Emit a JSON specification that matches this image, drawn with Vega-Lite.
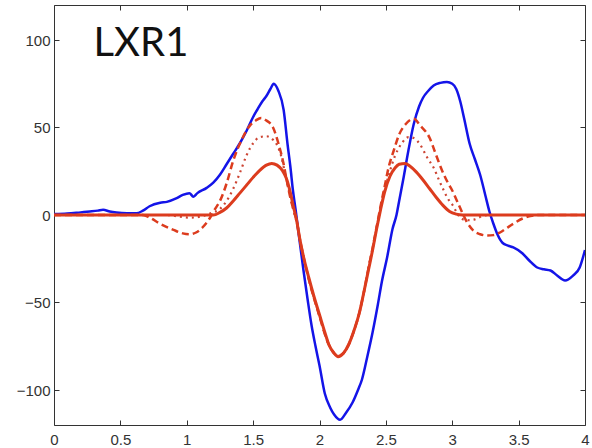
{
  "$schema": "https://vega.github.io/schema/vega-lite/v6.json",
  "width": 531,
  "height": 420,
  "autosize": {"type": "none"},
  "padding": {"left": 54, "top": 5, "right": 7, "bottom": 23},
  "background": "white",
  "config": {
    "view": {"stroke": "#333333", "strokeWidth": 1},
    "axis": {
      "grid": false,
      "domain": false,
      "tickColor": "#333333",
      "tickSize": -5,
      "tickWidth": 1,
      "labelFont": "Liberation Sans",
      "labelFontSize": 15,
      "labelColor": "#333333",
      "title": null
    }
  },
  "datasets": {
    "blue": [
      {"x": 0, "y": 0.5}, {"x": 0.1, "y": 0.8}, {"x": 0.2, "y": 1.5}, {"x": 0.27, "y": 2}, {"x": 0.33, "y": 2.5},
      {"x": 0.37, "y": 3}, {"x": 0.42, "y": 2}, {"x": 0.47, "y": 1.4}, {"x": 0.55, "y": 1}, {"x": 0.62, "y": 1},
      {"x": 0.67, "y": 2.5}, {"x": 0.72, "y": 5}, {"x": 0.8, "y": 7}, {"x": 0.85, "y": 7.5}, {"x": 0.92, "y": 9.5},
      {"x": 0.97, "y": 11.5}, {"x": 1.02, "y": 12.5}, {"x": 1.05, "y": 10.5}, {"x": 1.08, "y": 12.5}, {"x": 1.15, "y": 15.5},
      {"x": 1.2, "y": 18.5}, {"x": 1.25, "y": 23}, {"x": 1.3, "y": 29}, {"x": 1.35, "y": 35}, {"x": 1.4, "y": 41},
      {"x": 1.45, "y": 48}, {"x": 1.5, "y": 56}, {"x": 1.53, "y": 60}, {"x": 1.57, "y": 65}, {"x": 1.6, "y": 68},
      {"x": 1.63, "y": 72}, {"x": 1.655, "y": 75}, {"x": 1.69, "y": 71}, {"x": 1.73, "y": 60}, {"x": 1.76, "y": 40},
      {"x": 1.78, "y": 28}, {"x": 1.8, "y": 14}, {"x": 1.82, "y": 3}, {"x": 1.84, "y": -9}, {"x": 1.88, "y": -32},
      {"x": 1.91, "y": -48}, {"x": 1.94, "y": -63}, {"x": 1.97, "y": -75}, {"x": 2.0, "y": -86}, {"x": 2.04, "y": -102},
      {"x": 2.08, "y": -110}, {"x": 2.11, "y": -114}, {"x": 2.155, "y": -117}, {"x": 2.2, "y": -113}, {"x": 2.25, "y": -107},
      {"x": 2.29, "y": -100}, {"x": 2.32, "y": -94}, {"x": 2.36, "y": -81}, {"x": 2.4, "y": -67}, {"x": 2.44, "y": -51},
      {"x": 2.47, "y": -38}, {"x": 2.51, "y": -24}, {"x": 2.55, "y": -8}, {"x": 2.58, "y": 0}, {"x": 2.6, "y": 8},
      {"x": 2.63, "y": 20}, {"x": 2.67, "y": 37}, {"x": 2.71, "y": 52}, {"x": 2.75, "y": 62}, {"x": 2.78, "y": 67},
      {"x": 2.82, "y": 71}, {"x": 2.86, "y": 74}, {"x": 2.91, "y": 75.5}, {"x": 2.96, "y": 76}, {"x": 3.0, "y": 75},
      {"x": 3.03, "y": 72}, {"x": 3.06, "y": 65}, {"x": 3.09, "y": 55}, {"x": 3.13, "y": 41}, {"x": 3.17, "y": 32},
      {"x": 3.21, "y": 23}, {"x": 3.25, "y": 11}, {"x": 3.28, "y": 2}, {"x": 3.31, "y": -5}, {"x": 3.34, "y": -11},
      {"x": 3.38, "y": -16}, {"x": 3.42, "y": -17.5}, {"x": 3.46, "y": -18.5}, {"x": 3.53, "y": -22}, {"x": 3.58, "y": -26},
      {"x": 3.64, "y": -30}, {"x": 3.69, "y": -31}, {"x": 3.74, "y": -31.7}, {"x": 3.79, "y": -34.6}, {"x": 3.85, "y": -37.4},
      {"x": 3.91, "y": -34.6}, {"x": 3.96, "y": -30}, {"x": 4.0, "y": -20}
    ],
    "dashed": [
      {"x": 0, "y": 0}, {"x": 0.67, "y": 0}, {"x": 0.72, "y": -1.5}, {"x": 0.8, "y": -5}, {"x": 0.9, "y": -8.5},
      {"x": 0.97, "y": -10.5}, {"x": 1.02, "y": -11}, {"x": 1.07, "y": -10}, {"x": 1.12, "y": -7}, {"x": 1.18, "y": -1},
      {"x": 1.21, "y": 3}, {"x": 1.25, "y": 8}, {"x": 1.3, "y": 18}, {"x": 1.35, "y": 31}, {"x": 1.42, "y": 44},
      {"x": 1.48, "y": 51.5}, {"x": 1.52, "y": 54}, {"x": 1.56, "y": 55.5}, {"x": 1.6, "y": 54}, {"x": 1.65, "y": 50},
      {"x": 1.69, "y": 41}, {"x": 1.73, "y": 29}, {"x": 1.75, "y": 21}, {"x": 1.78, "y": 10}, {"x": 1.8, "y": 4},
      {"x": 1.83, "y": -4}, {"x": 1.85, "y": -13}, {"x": 1.88, "y": -24}, {"x": 1.92, "y": -37}, {"x": 1.96, "y": -48},
      {"x": 2.0, "y": -58}, {"x": 2.04, "y": -68}, {"x": 2.07, "y": -74}, {"x": 2.11, "y": -79}, {"x": 2.14, "y": -80.5},
      {"x": 2.18, "y": -79}, {"x": 2.22, "y": -74}, {"x": 2.26, "y": -66}, {"x": 2.3, "y": -56}, {"x": 2.34, "y": -42},
      {"x": 2.37, "y": -30}, {"x": 2.4, "y": -19}, {"x": 2.43, "y": -7}, {"x": 2.46, "y": 5}, {"x": 2.49, "y": 16},
      {"x": 2.52, "y": 27}, {"x": 2.56, "y": 37}, {"x": 2.6, "y": 46}, {"x": 2.65, "y": 52}, {"x": 2.71, "y": 55},
      {"x": 2.76, "y": 51}, {"x": 2.83, "y": 44}, {"x": 2.87, "y": 36}, {"x": 2.92, "y": 26}, {"x": 2.97, "y": 18},
      {"x": 3.0, "y": 14}, {"x": 3.03, "y": 9}, {"x": 3.06, "y": 4}, {"x": 3.11, "y": -4}, {"x": 3.16, "y": -9},
      {"x": 3.21, "y": -11}, {"x": 3.26, "y": -11.7}, {"x": 3.31, "y": -11.5}, {"x": 3.36, "y": -10}, {"x": 3.41, "y": -7.5},
      {"x": 3.46, "y": -5}, {"x": 3.53, "y": -2}, {"x": 3.6, "y": -0.5}, {"x": 3.65, "y": 0}, {"x": 4.0, "y": 0}
    ],
    "dotted": [
      {"x": 0, "y": 0}, {"x": 0.85, "y": 0}, {"x": 0.95, "y": -1}, {"x": 1.02, "y": -1.5}, {"x": 1.1, "y": -1},
      {"x": 1.18, "y": 1}, {"x": 1.25, "y": 3.5}, {"x": 1.3, "y": 8}, {"x": 1.35, "y": 15}, {"x": 1.4, "y": 24},
      {"x": 1.45, "y": 34}, {"x": 1.5, "y": 41}, {"x": 1.55, "y": 44.5}, {"x": 1.6, "y": 45}, {"x": 1.65, "y": 43},
      {"x": 1.68, "y": 40}, {"x": 1.71, "y": 34}, {"x": 1.74, "y": 24}, {"x": 1.77, "y": 14}, {"x": 1.8, "y": 4},
      {"x": 1.83, "y": -5}, {"x": 1.85, "y": -13.5}, {"x": 1.88, "y": -24.5}, {"x": 1.92, "y": -36.5}, {"x": 1.96, "y": -47.5},
      {"x": 2.0, "y": -57.5}, {"x": 2.04, "y": -67.5}, {"x": 2.07, "y": -74}, {"x": 2.11, "y": -79}, {"x": 2.14, "y": -80.5},
      {"x": 2.18, "y": -79}, {"x": 2.22, "y": -74}, {"x": 2.26, "y": -66}, {"x": 2.3, "y": -56}, {"x": 2.34, "y": -42},
      {"x": 2.37, "y": -30}, {"x": 2.4, "y": -19}, {"x": 2.43, "y": -7.5}, {"x": 2.46, "y": 4}, {"x": 2.49, "y": 14},
      {"x": 2.53, "y": 25}, {"x": 2.57, "y": 34}, {"x": 2.62, "y": 41}, {"x": 2.67, "y": 44.5}, {"x": 2.71, "y": 44},
      {"x": 2.76, "y": 40}, {"x": 2.81, "y": 33}, {"x": 2.86, "y": 27}, {"x": 2.9, "y": 20}, {"x": 2.93, "y": 15},
      {"x": 2.97, "y": 9}, {"x": 3.0, "y": 6}, {"x": 3.03, "y": 2}, {"x": 3.06, "y": -1.5}, {"x": 3.11, "y": -3},
      {"x": 3.17, "y": -2.5}, {"x": 3.23, "y": -0.5}, {"x": 3.28, "y": 0}, {"x": 4.0, "y": 0}
    ],
    "red": [
      {"x": 0, "y": 0}, {"x": 1.2, "y": 0}, {"x": 1.25, "y": 1.5}, {"x": 1.3, "y": 4}, {"x": 1.35, "y": 8},
      {"x": 1.4, "y": 12.5}, {"x": 1.45, "y": 17}, {"x": 1.5, "y": 21.5}, {"x": 1.55, "y": 25.5}, {"x": 1.6, "y": 28.5},
      {"x": 1.64, "y": 29.5}, {"x": 1.68, "y": 28.5}, {"x": 1.72, "y": 25.5}, {"x": 1.75, "y": 21}, {"x": 1.78, "y": 13},
      {"x": 1.8, "y": 6}, {"x": 1.83, "y": -4}, {"x": 1.85, "y": -13}, {"x": 1.88, "y": -24}, {"x": 1.92, "y": -36},
      {"x": 1.96, "y": -47}, {"x": 2.0, "y": -57}, {"x": 2.04, "y": -67}, {"x": 2.07, "y": -74}, {"x": 2.11, "y": -79},
      {"x": 2.14, "y": -81}, {"x": 2.18, "y": -79}, {"x": 2.22, "y": -74}, {"x": 2.26, "y": -66}, {"x": 2.3, "y": -56},
      {"x": 2.34, "y": -42}, {"x": 2.37, "y": -31}, {"x": 2.4, "y": -20}, {"x": 2.43, "y": -8}, {"x": 2.46, "y": 3},
      {"x": 2.49, "y": 13}, {"x": 2.53, "y": 22}, {"x": 2.57, "y": 27}, {"x": 2.6, "y": 29}, {"x": 2.645, "y": 29.5},
      {"x": 2.68, "y": 28}, {"x": 2.73, "y": 24.5}, {"x": 2.78, "y": 20}, {"x": 2.83, "y": 15}, {"x": 2.88, "y": 10},
      {"x": 2.93, "y": 5.5}, {"x": 2.98, "y": 2}, {"x": 3.03, "y": 0.5}, {"x": 3.08, "y": 0}, {"x": 4.0, "y": 0}
    ],
    "label": [{"text": "LXR1", "x": 0.655, "y": 91}]
  },
  "layer": [
    {
      "data": {"name": "blue"},
      "mark": {"type": "line", "color": "#1414e8", "strokeWidth": 2.5, "interpolate": "monotone", "clip": true},
      "encoding": {
        "x": {"field": "x", "type": "quantitative", "scale": {"domain": [0, 4], "nice": false},
              "axis": {"orient": "bottom", "values": [0, 0.5, 1, 1.5, 2, 2.5, 3, 3.5, 4], "format": "~g", "labelPadding": 12, "labelFlush": false}},
        "y": {"field": "y", "type": "quantitative", "scale": {"domain": [-120, 120], "nice": false, "zero": false},
              "axis": {"orient": "left", "values": [-100, -50, 0, 50, 100], "format": "d", "labelPadding": 9}}
      }
    },
    {
      "data": {"name": "dashed"},
      "mark": {"type": "line", "color": "#dc3c1e", "strokeWidth": 2.5, "strokeDash": [7, 4], "interpolate": "monotone", "clip": true},
      "encoding": {
        "x": {"field": "x", "type": "quantitative", "axis": {"orient": "top", "values": [0, 0.5, 1, 1.5, 2, 2.5, 3, 3.5, 4], "labels": false}},
        "y": {"field": "y", "type": "quantitative", "axis": {"orient": "right", "values": [-100, -50, 0, 50, 100], "labels": false}}
      }
    },
    {
      "data": {"name": "dotted"},
      "mark": {"type": "line", "color": "#cc4433", "strokeWidth": 2.2, "strokeDash": [2, 4], "interpolate": "monotone", "clip": true},
      "encoding": {
        "x": {"field": "x", "type": "quantitative", "axis": null},
        "y": {"field": "y", "type": "quantitative", "axis": null}
      }
    },
    {
      "data": {"name": "red"},
      "mark": {"type": "line", "color": "#dc3c1e", "strokeWidth": 3, "interpolate": "monotone", "clip": true},
      "encoding": {
        "x": {"field": "x", "type": "quantitative", "axis": null},
        "y": {"field": "y", "type": "quantitative", "axis": null}
      }
    },
    {
      "data": {"name": "label"},
      "mark": {"type": "text", "font": "Lato", "fontSize": 40, "color": "#111111", "align": "center", "baseline": "alphabetic"},
      "encoding": {
        "x": {"field": "x", "type": "quantitative", "axis": null},
        "y": {"field": "y", "type": "quantitative", "axis": null},
        "text": {"field": "text"}
      }
    }
  ],
  "resolve": {"axis": {"x": "independent", "y": "independent"}}
}
